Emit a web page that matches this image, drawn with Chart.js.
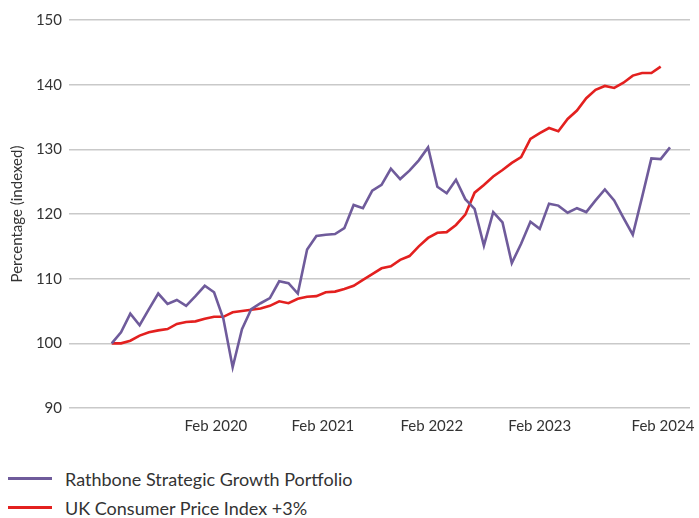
<!DOCTYPE html>
<html>
<head>
<meta charset="utf-8">
<script src="https://cdn.jsdelivr.net/npm/chart.js@4"></script>
<style>
  html, body { margin: 0; padding: 0; background: #fff; }
  body { width: 699px; height: 518px; overflow: hidden; font-family: Lato, "Open Sans", sans-serif; }
  #wrap { position: relative; width: 699px; height: 440px; }
  #legend { position: absolute; left: 8px; top: 464px; color: #333; font-size: 18px; }
  .item { display: flex; align-items: center; height: 29px; }
  .swatch { width: 44px; height: 3px; margin-right: 13px; }
</style>
</head>
<body>
<div id="wrap"><canvas id="chart" width="699" height="440"></canvas></div>
<div id="legend"></div>
<script>
(function() {
  'use strict';

  // Monthly index values, Feb 2019 = 100
  const portfolio = [
    100.0, 101.7, 104.6, 102.8, 105.3, 107.7, 106.1, 106.7, 105.8, 107.3,
    108.9, 107.9, 103.8, 96.3, 102.2, 105.3, 106.2, 107.0, 109.6, 109.3,
    107.7, 114.5, 116.6, 116.8, 116.9, 117.8, 121.4, 120.9, 123.6, 124.5,
    127.0, 125.4, 126.7, 128.3, 130.3, 124.2, 123.2, 125.3, 122.3, 120.8,
    115.1, 120.3, 118.7, 112.4, 115.4, 118.8, 117.7, 121.6, 121.3, 120.2,
    120.9, 120.3, 122.1, 123.8, 122.1, 119.4, 116.8, 122.6, 128.6, 128.5,
    130.3
  ];
  const cpiPlus3 = [
    100.0, 100.0, 100.4, 101.2, 101.7, 102.0, 102.2, 103.0, 103.3, 103.4,
    103.8, 104.1, 104.1, 104.8, 105.0, 105.2, 105.4, 105.8, 106.5, 106.2,
    106.9, 107.2, 107.3, 107.9, 108.0, 108.4, 108.9, 109.8, 110.7, 111.6,
    111.9, 112.9, 113.5, 115.0, 116.3, 117.1, 117.2, 118.3, 119.9, 123.3,
    124.5, 125.8, 126.8, 127.9, 128.8, 131.6, 132.5, 133.3, 132.8, 134.7,
    136.0, 137.9, 139.2, 139.8, 139.5, 140.3, 141.4, 141.8, 141.8, 142.8
  ];

  const seriesNames = ['Rathbone Strategic Growth Portfolio', 'UK Consumer Price Index +3%'];
  const seriesColors = ['#6f5b9b', '#e3201f'];

  // x-axis labels and where they sit on the month scale (0 = Feb 2019)
  const tickLabels = ['Feb 2020', 'Feb 2021', 'Feb 2022', 'Feb 2023', 'Feb 2024'];
  const tickPos = [11.2, 22.7, 34.4, 46.0, 59.25];
  const yTicks = [90, 100, 110, 120, 130, 140, 150];

  const toPoints = arr => arr.map((v, i) => ({ x: i, y: v }));

  const textColor = '#333';
  const gridColor = '#c9c9c9';

  new Chart(document.getElementById('chart'), {
    type: 'line',
    data: {
      datasets: [
        {
          label: seriesNames[0],
          data: toPoints(portfolio),
          borderColor: seriesColors[0],
          borderWidth: 2.6,
          pointRadius: 0,
          tension: 0
        },
        {
          label: seriesNames[1],
          data: toPoints(cpiPlus3),
          borderColor: seriesColors[1],
          borderWidth: 2.6,
          pointRadius: 0,
          tension: 0
        }
      ]
    },
    options: {
      responsive: false,
      animation: false,
      layout: { padding: { top: 20, right: 9, left: 0, bottom: 0 } },
      plugins: {
        legend: { display: false },
        tooltip: { enabled: false }
      },
      scales: {
        x: {
          type: 'linear',
          min: -4.59,
          max: 62.15,
          grid: { display: false, drawTicks: false },
          border: { display: false },
          afterBuildTicks: axis => { axis.ticks = tickPos.map(v => ({ value: v })); },
          afterFit: scale => { scale.height = 32; scale.paddingLeft = 0; scale.paddingRight = 0; },
          ticks: {
            autoSkip: false,
            maxRotation: 0,
            padding: 9,
            color: textColor,
            font: { family: 'Lato', size: 15 },
            callback: (v, i) => tickLabels[i]
          }
        },
        y: {
          min: 90,
          max: 150,
          afterBuildTicks: axis => { axis.ticks = yTicks.map(v => ({ value: v })); },
          afterFit: scale => { scale.width = 69; scale.paddingTop = 0; scale.paddingBottom = 0; },
          grid: { color: gridColor, lineWidth: 1.6, drawTicks: false },
          border: { display: false },
          title: {
            display: true,
            text: 'Percentage (indexed)',
            color: textColor,
            font: { family: 'Lato', size: 15 },
            padding: { top: 8, bottom: 0 }
          },
          ticks: {
            padding: 7,
            color: textColor,
            font: { family: 'Lato', size: 15 }
          }
        }
      }
    }
  });

  // Legend built from the same names/colours
  const legend = document.getElementById('legend');
  seriesNames.forEach((name, i) => {
    const item = document.createElement('div');
    item.className = 'item';
    const sw = document.createElement('span');
    sw.className = 'swatch';
    sw.style.background = seriesColors[i];
    const label = document.createElement('span');
    label.textContent = name;
    item.appendChild(sw);
    item.appendChild(label);
    legend.appendChild(item);
  });
})();
</script>
</body>
</html>
